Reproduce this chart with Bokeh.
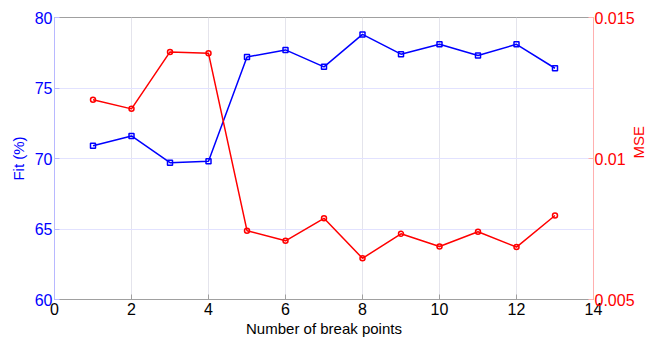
import math
from bokeh.plotting import figure
from bokeh.models import Range1d, LinearAxis, FixedTicker
from bokeh.embed import file_html
from bokeh.resources import INLINE

# Break-point sweep results
break_points = [1, 2, 3, 4, 5, 6, 7, 8, 9, 10, 11, 12, 13]
fit_pct = [70.9, 71.6, 69.7, 69.8, 77.2, 77.7, 76.5, 78.8, 77.4, 78.1, 77.3, 78.1, 76.4]
mse = [0.01208, 0.01176, 0.01378, 0.01373, 0.00744, 0.00708, 0.00788, 0.00646,
       0.00733, 0.00688, 0.00740, 0.00686, 0.00798]

x_ticks = [0, 2, 4, 6, 8, 10, 12, 14]
fit_ticks = [60, 65, 70, 75, 80]
mse_ticks = [0.005, 0.01, 0.015]
mse_tick_labels = {0.005: "0.005", 0.01: "0.01", 0.015: "0.015"}

FONT = "Liberation Sans"
BLUE = "#0000ff"
RED = "#ff0000"

p = figure(width=664, height=339, output_backend="svg", toolbar_location=None,
           x_range=Range1d(0, 14), y_range=Range1d(60, 80),
           min_border_left=54, min_border_right=71, min_border_top=17,
           min_border_bottom=37)
p.extra_y_ranges = {"mse": Range1d(0.005, 0.015)}

p.outline_line_color = "#a0a0a0"
p.outline_line_width = 1
p.background_fill_color = "white"
p.border_fill_color = "white"

# bottom axis
xa = p.xaxis[0]
xa.ticker = FixedTicker(ticks=x_ticks)
xa.axis_label = "Number of break points"
xa.axis_label_text_font = FONT
xa.axis_label_text_font_size = "15px"
xa.axis_label_text_font_style = "normal"
xa.axis_label_text_color = "black"
xa.axis_label_standoff = 2
xa.major_label_text_font = FONT
xa.major_label_text_font_size = "16px"
xa.major_label_text_color = "black"
xa.major_label_standoff = 3
xa.axis_line_color = "#a0a0a0"
xa.major_tick_line_color = "#a0a0a0"
xa.major_tick_in = 5
xa.major_tick_out = 0
xa.minor_tick_line_color = None

# left axis (Fit)
ya = p.yaxis[0]
ya.ticker = FixedTicker(ticks=fit_ticks)
ya.axis_label = "Fit (%)"
ya.axis_label_text_font = FONT
ya.axis_label_text_font_size = "15px"
ya.axis_label_text_font_style = "normal"
ya.axis_label_text_color = BLUE
ya.axis_label_standoff = 5
ya.major_label_text_font = FONT
ya.major_label_text_font_size = "16px"
ya.major_label_text_color = BLUE
ya.major_label_standoff = 2
ya.axis_line_color = "#b8b8ff"
ya.major_tick_line_color = "#b8b8ff"
ya.major_tick_in = 5
ya.major_tick_out = 0
ya.minor_tick_line_color = None

# right axis (MSE), label reading bottom-to-top
ra = LinearAxis(y_range_name="mse", ticker=FixedTicker(ticks=mse_ticks),
                major_label_overrides=mse_tick_labels)
ra.axis_label = "MSE"
ra.axis_label_orientation = math.pi / 2
ra.axis_label_text_font = FONT
ra.axis_label_text_font_size = "15px"
ra.axis_label_text_font_style = "normal"
ra.axis_label_text_color = RED
ra.axis_label_standoff = 1
ra.major_label_text_font = FONT
ra.major_label_text_font_size = "16px"
ra.major_label_text_color = RED
ra.major_label_standoff = 1
ra.axis_line_color = "#ffb0b0"
ra.major_tick_line_color = "#ffb0b0"
ra.major_tick_in = 5
ra.major_tick_out = 0
ra.minor_tick_line_color = None
p.add_layout(ra, "right")

# grid
p.xgrid.ticker = FixedTicker(ticks=x_ticks)
p.xgrid.grid_line_color = "#e4e4ec"
p.xgrid.grid_line_width = 1
p.ygrid.ticker = FixedTicker(ticks=fit_ticks)
p.ygrid.grid_line_color = "#e2e2ff"
p.ygrid.grid_line_width = 1

# series
p.line(break_points, fit_pct, line_color=BLUE, line_width=1.5)
p.scatter(break_points, fit_pct, marker="square", size=5, line_color=BLUE,
          fill_color=None, line_width=1.5)

p.line(break_points, mse, y_range_name="mse", line_color=RED, line_width=1.5)
p.scatter(break_points, mse, y_range_name="mse", marker="circle", size=5,
          line_color=RED, fill_color=None, line_width=1.5)

open("out.html", "w").write(file_html(p, INLINE))
